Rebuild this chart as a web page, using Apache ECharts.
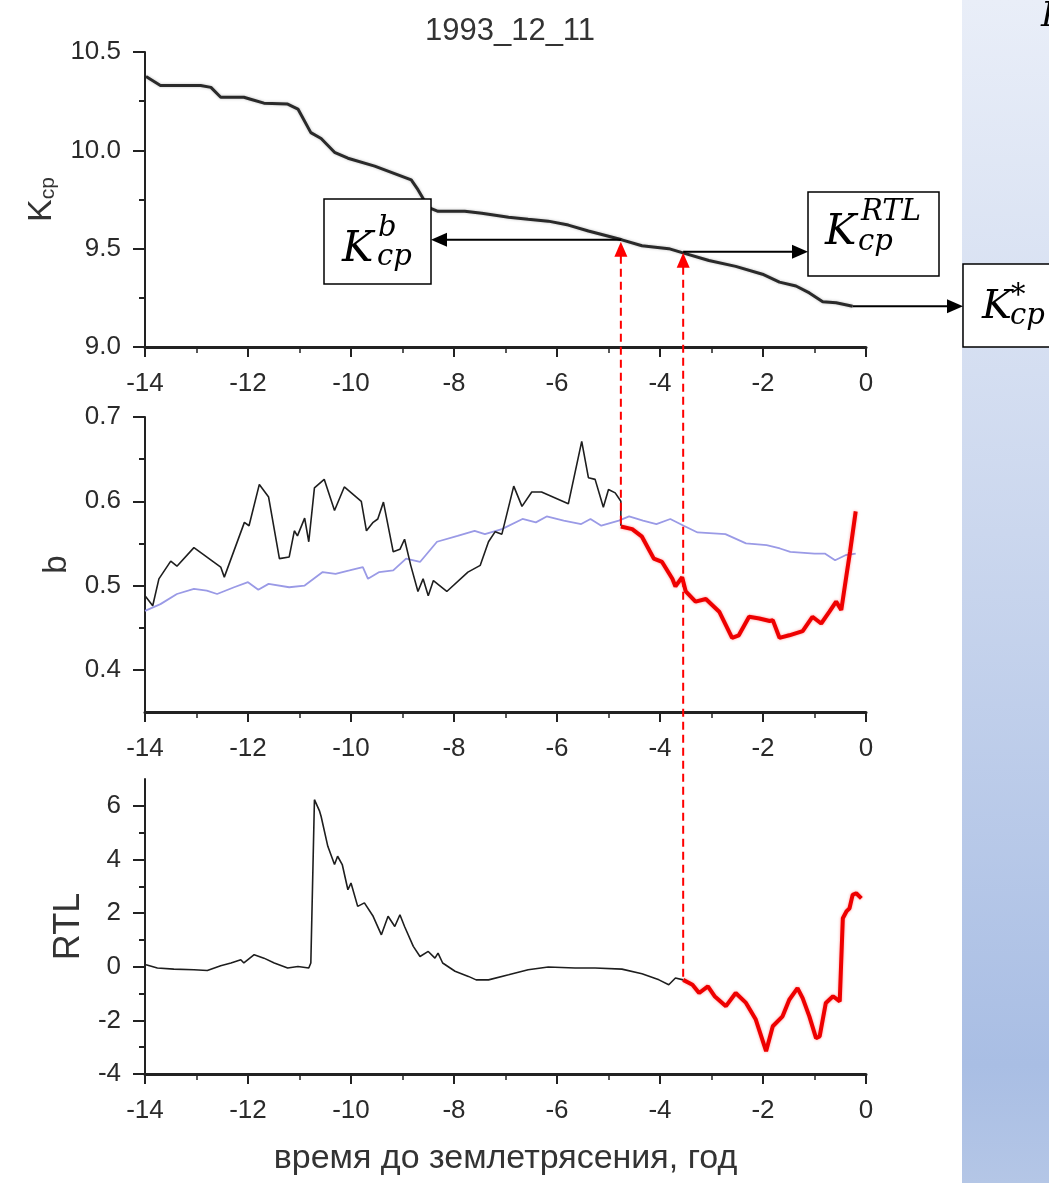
<!DOCTYPE html>
<html>
<head>
<meta charset="utf-8">
<script src="https://cdn.jsdelivr.net/npm/echarts@6/dist/echarts.min.js"></script>
<style>
html, body { margin: 0; padding: 0; background: #fff; }
#main { width: 1049px; height: 1183px; }
</style>
</head>
<body>
<div id="main"></div>
<script>
// ---- data (time before the earthquake, years) ----
var kcpTime = [-13.98, -13.7, -12.92, -12.72, -12.53, -12.33, -12.08, -11.95, -11.69, -11.23, -11.03, -10.78, -10.58,
  -10.32, -10.06, -9.54, -8.83, -8.7, -8.5, -8.31, -7.79, -7.46, -6.94, -6.56, -6.17, -5.78, -5.39, -4.74, -4.35,
  -3.83, -3.57, -3.05, -2.53, -2.01, -1.68, -1.36, -1.1, -0.84, -0.58, -0.26];
var kcpVal = [10.375, 10.33, 10.33, 10.32, 10.27, 10.27, 10.27, 10.26, 10.24, 10.235, 10.21, 10.09, 10.06,
  9.99, 9.96, 9.92, 9.85, 9.8, 9.71, 9.69, 9.69, 9.68, 9.66, 9.65, 9.64, 9.62, 9.59, 9.545, 9.515,
  9.5, 9.48, 9.44, 9.41, 9.37, 9.33, 9.31, 9.275, 9.23, 9.225, 9.207];

var bBlackTime = [-14, -13.85, -13.73, -13.5, -13.38, -13.05, -12.53, -12.46, -12.07, -11.98, -11.78, -11.6, -11.39, -11.2,
  -11.1, -11.04, -10.9, -10.82, -10.71, -10.52, -10.32, -10.13, -9.8, -9.7, -9.57, -9.48, -9.37, -9.18, -9.05, -8.96,
  -8.84, -8.7, -8.6, -8.5, -8.4, -8.14, -7.73, -7.49, -7.33, -7.2, -7.07, -6.84, -6.68, -6.49, -6.3, -5.78, -5.52,
  -5.39, -5.26, -5.1, -5.0, -4.87, -4.76, -4.76];
var bBlackVal = [0.488, 0.476, 0.508, 0.529, 0.523, 0.545, 0.522, 0.51, 0.575, 0.571, 0.62, 0.605, 0.532, 0.534,
  0.565, 0.559, 0.58, 0.552, 0.616, 0.626, 0.589, 0.617, 0.6, 0.565, 0.575, 0.579, 0.599, 0.54, 0.543, 0.555,
  0.524, 0.493, 0.508, 0.488, 0.506, 0.493, 0.516, 0.524, 0.552, 0.564, 0.561, 0.618, 0.594, 0.611, 0.611, 0.597, 0.671,
  0.628, 0.626, 0.593, 0.614, 0.61, 0.6, 0.571];

var bRedTime = [-4.76, -4.54, -4.35, -4.12, -3.96, -3.76, -3.7, -3.57, -3.5, -3.31, -3.11, -2.85, -2.6, -2.47, -2.27,
  -2.07, -1.87, -1.81, -1.68, -1.49, -1.23, -1.04, -0.87, -0.71, -0.58, -0.48, -0.38, -0.31, -0.2];
var bRedVal = [0.57, 0.567, 0.558, 0.532, 0.528, 0.508, 0.499, 0.51, 0.493, 0.481, 0.484, 0.469, 0.438, 0.441, 0.463,
  0.461, 0.458, 0.459, 0.438, 0.441, 0.446, 0.463, 0.455, 0.469, 0.481, 0.471, 0.512, 0.54, 0.588];

var bMeanTime = [-14, -13.7, -13.38, -13.05, -12.8, -12.6, -12.27, -12.0, -11.8, -11.6, -11.2, -10.9, -10.55, -10.3,
  -10.03, -9.77, -9.67, -9.45, -9.18, -8.93, -8.66, -8.33, -7.93, -7.6, -7.4, -7.07, -6.67, -6.41, -6.2, -5.87, -5.53,
  -5.35, -5.14, -4.8, -4.6, -4.33, -4.07, -3.8, -3.54, -3.27, -2.73, -2.33, -1.93, -1.67, -1.47, -1.0, -0.8, -0.6, -0.4, -0.2];
var bMeanVal = [0.47, 0.478, 0.49, 0.496, 0.494, 0.49, 0.498, 0.504, 0.495, 0.502, 0.498, 0.5, 0.516, 0.514,
  0.518, 0.522, 0.508, 0.516, 0.518, 0.532, 0.528, 0.552, 0.559, 0.565, 0.561, 0.567, 0.579, 0.575, 0.582, 0.577, 0.573,
  0.579, 0.571, 0.577, 0.582, 0.577, 0.573, 0.579, 0.571, 0.563, 0.561, 0.55, 0.548, 0.544, 0.54, 0.538, 0.538, 0.53, 0.536, 0.538];

var rtlBlackTime = [-13.98, -13.76, -13.44, -13.05, -12.79, -12.53, -12.33, -12.14, -12.08, -11.88, -11.69, -11.49, -11.23,
  -11.03, -10.82, -10.78, -10.71, -10.61, -10.58, -10.45, -10.32, -10.26, -10.17, -10.06, -10.0, -9.87, -9.74, -9.57,
  -9.41, -9.28, -9.15, -9.05, -8.96, -8.79, -8.66, -8.5, -8.37, -8.31, -8.22, -7.98, -7.72, -7.57, -7.33, -6.94, -6.56,
  -6.17, -5.65, -5.26, -4.74, -4.35, -4.02, -3.83, -3.7, -3.55];
var rtlBlackVal = [0.07, -0.05, -0.09, -0.11, -0.14, 0.04, 0.14, 0.26, 0.14, 0.45, 0.32, 0.14, -0.05,
  0.01, -0.05, 0.14, 6.23, 5.8, 5.6, 4.49, 3.81, 4.12, 3.81, 2.87, 3.12, 2.25, 2.38, 1.88,
  1.19, 1.88, 1.5, 1.94, 1.5, 0.76, 0.38, 0.57, 0.32, 0.51, 0.14, -0.17, -0.36, -0.49, -0.49, -0.3, -0.11,
  -0.01, -0.05, -0.05, -0.09, -0.26, -0.49, -0.67, -0.42, -0.49];

var rtlRedTime = [-3.55, -3.37, -3.24, -3.07, -2.94, -2.72, -2.53, -2.33, -2.14, -1.94, -1.81, -1.62, -1.49, -1.33,
  -1.23, -1.1, -0.97, -0.9, -0.78, -0.64, -0.51, -0.45, -0.38, -0.32, -0.26, -0.19, -0.09];
var rtlRedVal = [-0.49, -0.67, -0.98, -0.73, -1.1, -1.47, -0.98, -1.35, -1.97, -3.15, -2.22, -1.85, -1.23, -0.8,
  -1.17, -1.85, -2.66, -2.6, -1.35, -1.1, -1.29, 1.81, 2.06, 2.18, 2.68, 2.74, 2.55];

// tick labels
var kcpTicks = [9.0, 9.5, 10.0, 10.5];
var kcpMinor = [9.25, 9.75, 10.25];
var bTicks = [0.4, 0.5, 0.6, 0.7];
var bMinor = [0.45, 0.55, 0.65];
var rtlTicks = [-4, -2, 0, 2, 4, 6];
var rtlMinor = [-3, -1, 1, 3, 5];

// annotation anchors: moments where b and RTL turn red, Kcp at those moments
var linkTime = [-4.76, -3.55];
var linkKcp = [9.545, 9.49];
var linkB = 0.57;
var linkRtl = -0.49;

var SANS = '"Liberation Sans", Arial, sans-serif';
var MATH = '"DejaVu Serif", "Liberation Serif", serif';

function pairs(t, v) {
  var out = [];
  for (var i = 0; i < t.length; i++) out.push([t[i], v[i]]);
  return out;
}

function xAx(i, extra) {
  var a = {
    type: 'value', gridIndex: i, min: -14, max: 0, interval: 2,
    axisLine: { show: true, onZero: false, lineStyle: { color: '#222', width: 3 } },
    axisTick: { show: true, length: 10, lineStyle: { color: '#222', width: 2 } },
    minorTick: { show: true, splitNumber: 2, length: 6, lineStyle: { color: '#222', width: 1.5 } },
    axisLabel: { color: '#2a2a2a', fontSize: 26, margin: 24, fontFamily: SANS },
    splitLine: { show: false }
  };
  if (extra) for (var k in extra) a[k] = extra[k];
  return a;
}

function yMain(i, min, max, ticks, fmt, name, gap, nameStyle) {
  return {
    type: 'value', gridIndex: i, min: min, max: max, position: 'left',
    name: name, nameLocation: 'middle', nameGap: gap, nameTextStyle: nameStyle,
    axisLine: { show: true, onZero: false, lineStyle: { color: '#222', width: 2 } },
    axisTick: { show: true, length: 12, customValues: ticks, lineStyle: { color: '#222', width: 2 } },
    axisLabel: { color: '#2a2a2a', fontSize: 26, margin: 24, fontFamily: SANS, customValues: ticks,
      formatter: fmt },
    splitLine: { show: false }
  };
}

function yMinor(i, min, max, ticks) {
  return {
    type: 'value', gridIndex: i, min: min, max: max, position: 'left', offset: 0,
    axisLine: { show: false, onZero: false },
    axisTick: { show: true, length: 6, customValues: ticks, lineStyle: { color: '#222', width: 2 } },
    axisLabel: { show: false },
    splitLine: { show: false }
  };
}

var option = {
  animation: false,
  backgroundColor: '#fff',
  title: {
    text: '1993_12_11', left: 505, top: 11, textAlign: 'center',
    textStyle: { fontSize: 31, fontWeight: 'normal', color: '#333', fontFamily: SANS }
  },
  grid: [
    { left: 145, top: 52, width: 721, height: 295 },
    { left: 145, top: 417, width: 721, height: 295 },
    { left: 145, top: 779, width: 721, height: 295 }
  ],
  xAxis: [
    xAx(0), xAx(1),
    xAx(2, { name: 'время до землетрясения, год', nameLocation: 'middle', nameGap: 68,
      nameTextStyle: { fontSize: 34, color: '#333', fontFamily: SANS } })
  ],
  yAxis: [
    yMain(0, 9, 10.5, kcpTicks, function (v) { return v.toFixed(1); }, '{k|K}{s|cp}', 86,
      { color: '#333', fontFamily: SANS, rich: {
        k: { fontSize: 34, color: '#333', fontFamily: SANS },
        s: { fontSize: 21, lineHeight: 12, verticalAlign: 'bottom', color: '#333', fontFamily: SANS } } }),
    yMinor(0, 9, 10.5, kcpMinor),
    yMain(1, 0.35, 0.7, bTicks, function (v) { return v.toFixed(1); }, 'b', 72,
      { fontSize: 33, color: '#333', fontFamily: SANS }),
    yMinor(1, 0.35, 0.7, bMinor),
    yMain(2, -4, 7, rtlTicks, function (v) { return String(v); }, 'RTL', 56,
      { fontSize: 36, color: '#333', fontFamily: SANS }),
    yMinor(2, -4, 7, rtlMinor)
  ],
  series: [
    { type: 'line', xAxisIndex: 0, yAxisIndex: 0, data: pairs(kcpTime, kcpVal), symbol: 'none',
      lineStyle: { color: '#2a2a2a', width: 3, shadowColor: 'rgba(0,0,0,0.25)', shadowBlur: 3 }, z: 3 },
    { type: 'line', xAxisIndex: 1, yAxisIndex: 2, data: pairs(bMeanTime, bMeanVal), symbol: 'none',
      lineStyle: { color: '#9a9ae6', width: 1.8 }, z: 2 },
    { type: 'line', xAxisIndex: 1, yAxisIndex: 2, data: pairs(bBlackTime, bBlackVal), symbol: 'none',
      lineStyle: { color: '#1e1e1e', width: 1.6 }, z: 3 },
    { type: 'line', xAxisIndex: 1, yAxisIndex: 2, data: pairs(bRedTime, bRedVal), symbol: 'none',
      lineStyle: { color: '#ee0000', width: 4, shadowColor: 'rgba(255,0,0,0.4)', shadowBlur: 3 }, z: 4 },
    { type: 'line', xAxisIndex: 2, yAxisIndex: 4, data: pairs(rtlBlackTime, rtlBlackVal), symbol: 'none',
      lineStyle: { color: '#1e1e1e', width: 1.6 }, z: 3 },
    { type: 'line', xAxisIndex: 2, yAxisIndex: 4, data: pairs(rtlRedTime, rtlRedVal), symbol: 'none',
      lineStyle: { color: '#ee0000', width: 4, shadowColor: 'rgba(255,0,0,0.4)', shadowBlur: 3 }, z: 4 }
  ]
};

var chart = echarts.init(document.getElementById('main'), null, { renderer: 'canvas' });
chart.setOption(option);

// ---- annotations, anchored on data points ----
function px(seriesIndex, t, v) {
  return chart.convertToPixel({ seriesIndex: seriesIndex }, [t, v]);
}

function txt(s, x, y, size) {
  return { type: 'text', z: 20, style: { text: s, x: x, y: y, fill: '#000',
    font: 'italic ' + size + 'px ' + MATH, align: 'left', verticalAlign: 'middle',
    textAlign: 'left', textVerticalAlign: 'middle' } };
}

function box(x, y, w, h) {
  return { type: 'rect', z: 15, shape: { x: x, y: y, width: w, height: h },
    style: { fill: '#fff', stroke: '#000', lineWidth: 1.5 } };
}

function hArrow(x1, x2, y) {
  var dir = x2 > x1 ? 1 : -1;
  return [
    { type: 'line', z: 16, shape: { x1: x1, y1: y, x2: x2 - dir * 12, y2: y },
      style: { stroke: '#000', lineWidth: 2 } },
    { type: 'polygon', z: 16, shape: { points: [[x2, y], [x2 - dir * 16, y - 7], [x2 - dir * 16, y + 7]] },
      style: { fill: '#000' } }
  ];
}

function redLink(top, bottomY) {
  var tip = top[1] + 2;
  return [
    { type: 'line', z: 16, shape: { x1: top[0], y1: tip + 14, x2: top[0], y2: bottomY },
      style: { stroke: '#ff0000', lineWidth: 2, lineDash: [8, 5] } },
    { type: 'polygon', z: 16, shape: { points: [[top[0], tip], [top[0] - 6.5, tip + 15], [top[0] + 6.5, tip + 15]] },
      style: { fill: '#ff0000' } }
  ];
}

var pB = px(0, linkTime[0], linkKcp[0]);
var pR = px(0, linkTime[1], linkKcp[1]);
var pLast = px(0, kcpTime[kcpTime.length - 1], kcpVal[kcpVal.length - 1]);
var bEnd = px(3, linkTime[0], linkB);
var rEnd = px(5, linkTime[1], linkRtl);

var g = [
  { type: 'rect', z: 1, shape: { x: 962, y: 0, width: 87, height: 1183 },
    style: { fill: new echarts.graphic.LinearGradient(0, 0, 0, 1, [
      { offset: 0, color: '#e9eef8' },
      { offset: 0.45, color: '#cbd7ee' },
      { offset: 0.9, color: '#a9bee4' },
      { offset: 1, color: '#b4c6e6' }
    ]) } },
  txt('K', 1041, 17, 34),
  box(324, 199, 107, 85),
  txt('K', 342, 250, 42), txt('b', 378, 228, 29), txt('cp', 377, 257, 29),
  box(808, 192, 131, 84),
  txt('K', 825, 233, 42), txt('RTL', 861, 212, 29), txt('cp', 858, 242, 29),
  box(963, 264, 110, 83),
  txt('K', 982, 308, 40), txt('*', 1011, 296, 29), txt('cp', 1010, 316, 29)
];
g = g.concat(hArrow(pB[0], 431, pB[1]));
g = g.concat(hArrow(pR[0], 808, pR[1] + 1));
g = g.concat(hArrow(pLast[0], 963, pLast[1]));
g = g.concat(redLink(pB, bEnd[1]));
g = g.concat(redLink(pR, rEnd[1]));

chart.setOption({ graphic: g });
</script>
</body>
</html>
